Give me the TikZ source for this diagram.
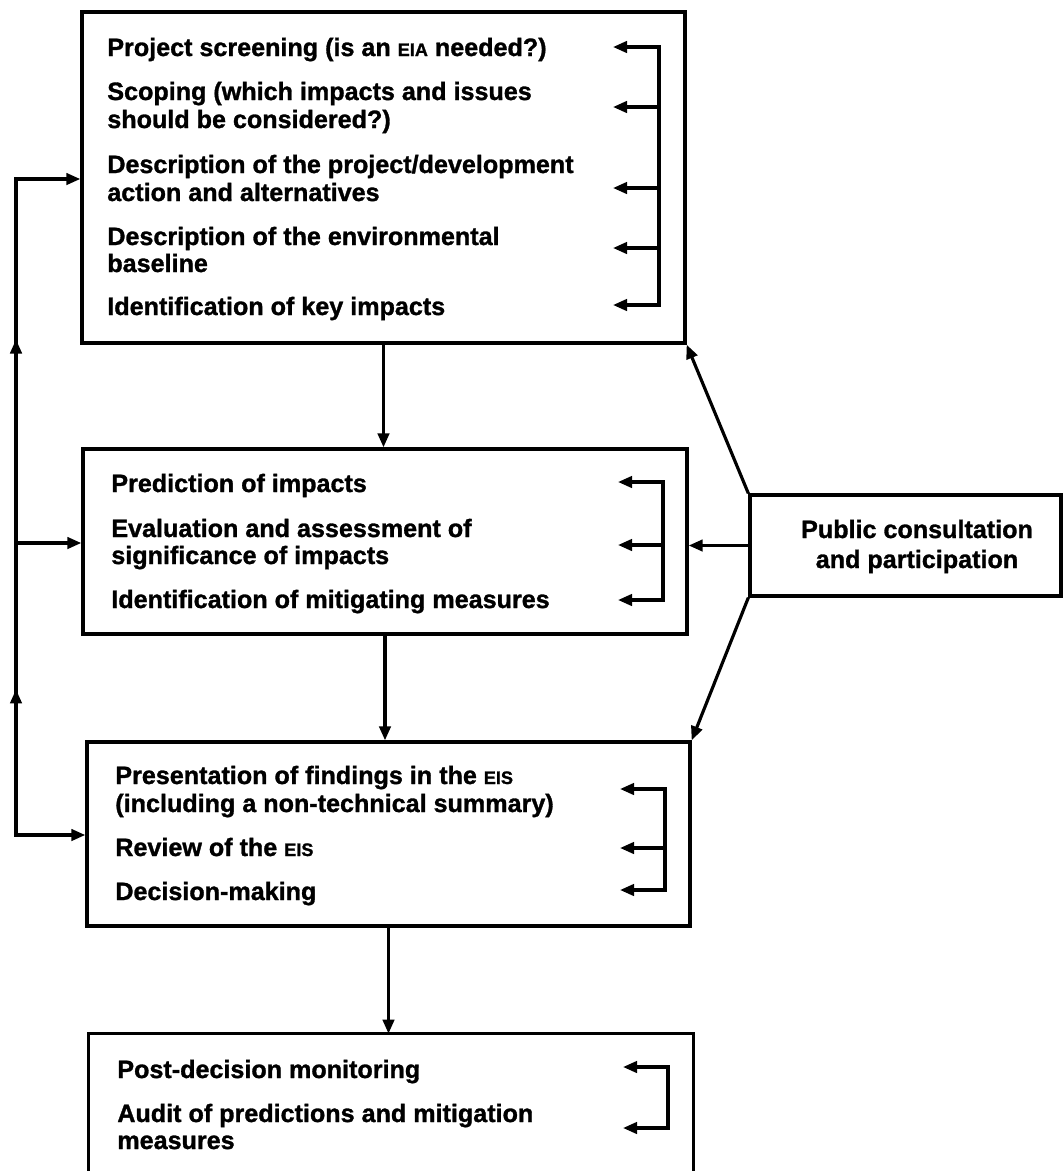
\documentclass[tikz,border=0pt]{standalone}
\usepackage{fontspec}
\setmainfont{Liberation Sans}[BoldFeatures={FakeBold=1.2}]
\usetikzlibrary{arrows.meta,fit,decorations.markings}

% small capitals imitated with reduced upper case
\newcommand\smc[1]{{\fontsize{10.3pt}{10pt}\selectfont #1}}

\begin{document}
\begin{tikzpicture}[x=0.02cm,y=-0.02cm,
  box/.style={draw,line width=1.9pt,inner sep=0pt,rectangle},
  txt/.style={anchor=base west,inner sep=0pt,font=\fontsize{14.3pt}{16pt}\selectfont\bfseries},
  ctxt/.style={txt,anchor=base},
  link/.style={line width=1.8pt},
  tip/.tip={Triangle[length=8pt,width=6.5pt]},
  arr/.style={link,-tip},
  both/.style={link,tip-tip},
  upmarks/.style={postaction={decorate},
    decoration={markings,
      mark=at position 4.3cm with {\arrow{tip}},
      mark=at position 11.3cm with {\arrow{tip}}}}
]
\useasboundingbox (0,0) rectangle (1064,1171);

% main stage boxes
\node[box,fit={(82,12) (685,343)}] (b1) {};
\node[box,fit={(83,449) (687,634)}] (b2) {};
\node[box,fit={(87,742) (690,926)}] (b3) {};
\node[fit={(89,1034) (693,1190)},inner sep=0pt] (b4) {};
\draw[line width=1.9pt] (b4.south west) |- (b4.north east) -- (b4.south east);
\node[box,fit={(750,495) (1061,596)}] (pub) {};

% stage 1
\node[txt] (p1)  at (107,56)  {Project screening (is an \smc{EIA} needed?)};
\node[txt] (p2a) at (107,100) {Scoping (which impacts and issues};
\node[txt] (p2b) at (107,128) {should be considered?)};
\node[txt] (p3a) at (107,173) {Description of the project/development};
\node[txt] (p3b) at (107,201) {action and alternatives};
\node[txt] (p4a) at (107,245) {Description of the environmental};
\node[txt] (p4b) at (107,272) {baseline};
\node[txt] (p5)  at (107,315) {Identification of key impacts};

% stage 2
\node[txt] (q1)  at (111,492) {Prediction of impacts};
\node[txt] (q2a) at (111,537) {Evaluation and assessment of};
\node[txt] (q2b) at (111,564) {significance of impacts};
\node[txt] (q3)  at (111,608) {Identification of mitigating measures};

% stage 3
\node[txt] (r1a) at (115,784) {Presentation of findings in the \smc{EIS}};
\node[txt] (r1b) at (115,812) {(including a non-technical summary)};
\node[txt] (r2)  at (115,856) {Review of the \smc{EIS}};
\node[txt] (r3)  at (115,900) {Decision-making};

% stage 4
\node[txt] (s1)  at (117,1078) {Post-decision monitoring};
\node[txt] (s2a) at (117,1122) {Audit of predictions and mitigation};
\node[txt] (s2b) at (117,1149) {measures};

% public involvement
\node[ctxt] (u1) at (917,538) {Public consultation};
\node[ctxt] (u2) at (917,568) {and participation};

% iteration brackets inside the boxes
\foreach \y [count=\i] in {47,107,188,248,305} {
  \coordinate (k1\i) at (659,\y); \coordinate (a1\i) at (613,\y);
}
\draw[both] (a11) -- (k11) -- (k15) -- (a15);
\foreach \i in {2,3,4} { \draw[arr] (k1\i) -- (a1\i); }

\foreach \y [count=\i] in {482,545,600} {
  \coordinate (k2\i) at (663,\y); \coordinate (a2\i) at (618,\y);
}
\draw[both] (a21) -- (k21) -- (k23) -- (a23);
\draw[arr] (k22) -- (a22);

\foreach \y [count=\i] in {789,848,890} {
  \coordinate (k3\i) at (665,\y); \coordinate (a3\i) at (620,\y);
}
\draw[both] (a31) -- (k31) -- (k33) -- (a33);
\draw[arr] (k32) -- (a32);

\coordinate (k41) at (668,1067); \coordinate (a41) at (623,1067);
\coordinate (k42) at (668,1128); \coordinate (a42) at (623,1128);
\draw[both] (a41) -- (k41) -- (k42) -- (a42);

% sequence between stages
\draw[arr] (b1.south) -- (b1.south |- b2.north);
\draw[arr] (b2.south) -- (b2.south |- b3.north);
\draw[arr] (b3.south) -- (b3.south |- b4.north);

% feedback loop on the left
\coordinate (f1) at (16,179);
\coordinate (f2) at (16,543);
\coordinate (f3) at (16,835);
\draw[both,upmarks] (f3 -| b3.west) -- (f3) -- (f1) -- (f1 -| b1.west);
\draw[arr] (f2) -- (f2 -| b2.west);

% consultation inputs
\draw[arr] (pub.north west) -- (b1.south east);
\draw[arr] (pub.west) -- (pub.west -| b2.east);
\draw[arr] (pub.south west) -- (b3.north east);
\end{tikzpicture}
\end{document}
